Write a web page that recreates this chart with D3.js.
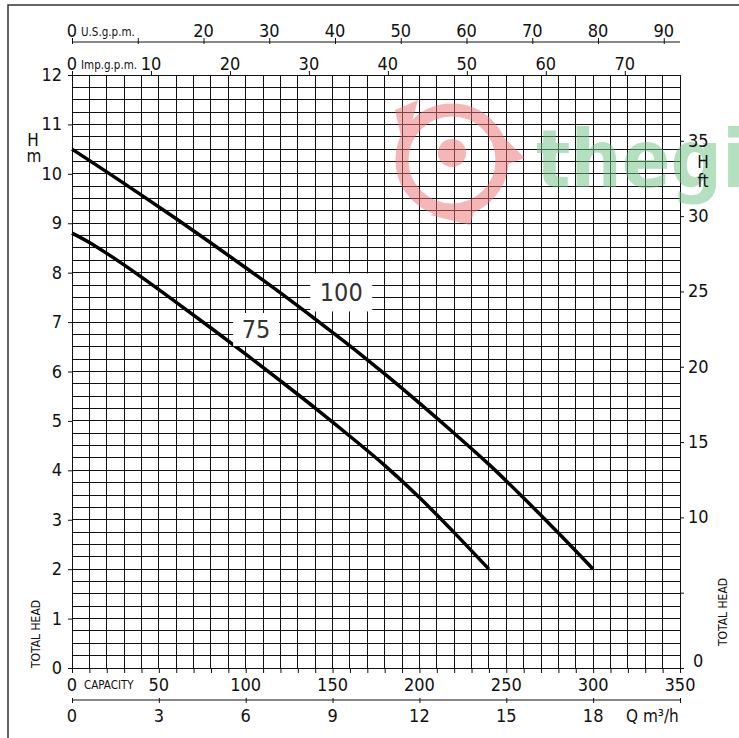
<html>
<head>
<meta charset="utf-8">
<script src="https://d3js.org/d3.v7.min.js"></script>
<style>
body { margin: 0; background: #fff; }
svg text { font-family: "Liberation Sans Narrow", "DejaVu Sans Condensed", "Roboto", sans-serif; fill: #111; }
</style>
</head>
<body>
<script>
// curve data (Q in l/min, H in m)
var flow100 = [0, 20, 40, 60, 80, 100, 120, 140, 160, 180, 200, 220, 240, 260, 280, 300];
var head100 = [10.5, 10.04, 9.57, 9.09, 8.6, 8.1, 7.59, 7.06, 6.52, 5.95, 5.36, 4.75, 4.12, 3.44, 2.73, 2.0];
var flow75 = [0, 10, 20, 40, 60, 80, 100, 120, 140, 160, 180, 200, 220, 240];
var head75 = [8.8, 8.61, 8.39, 7.91, 7.4, 6.88, 6.35, 5.81, 5.26, 4.69, 4.1, 3.45, 2.74, 2.0];

var lminTicks = [0, 50, 100, 150, 200, 250, 300, 350];
var m3hTicks = [0, 3, 6, 9, 12, 15, 18];
var usTicks = [0, 10, 20, 30, 40, 50, 60, 70, 80, 90];
var impTicks = [0, 10, 20, 30, 40, 50, 60, 70];
var mTicks = [0, 1, 2, 3, 4, 5, 6, 7, 8, 9, 10, 11, 12];
var ftTicks = [0, 5, 10, 15, 20, 25, 30, 35];

var w = 739, h = 738;
var svg = d3.select("body").append("svg").attr("width", w).attr("height", h);

var x = d3.scaleLinear().domain([0, 350]).range([72, 680]);
var y = d3.scaleLinear().domain([0, 12]).range([668, 75]);
var xUS = d3.scaleLinear().domain([0, 350 / 3.785]).range([72, 680]);
var xImp = d3.scaleLinear().domain([0, 350 / 4.546]).range([72, 680]);
var xM3 = d3.scaleLinear().domain([0, 21]).range([72, 680]);
var yFt = d3.scaleLinear().domain([0, 12 * 3.2808]).range([668, 75]);

// frame
svg.append("rect").attr("x", 8).attr("y", 5).attr("width", 760).attr("height", 760)
  .attr("fill", "none").attr("stroke", "#333").attr("stroke-width", 1.5);

// grid
var grid = svg.append("g").attr("shape-rendering", "crispEdges").attr("stroke", "#111").attr("stroke-width", 1);
grid.selectAll(".v").data(d3.range(0, 351, 10)).enter().append("line")
  .attr("x1", function(d){return x(d);}).attr("x2", function(d){return x(d);})
  .attr("y1", y(12)).attr("y2", y(0));
grid.selectAll(".hz").data(d3.range(0, 12.01, 0.25)).enter().append("line")
  .attr("y1", function(d){return y(d);}).attr("y2", function(d){return y(d);})
  .attr("x1", x(0)).attr("x2", x(350));

// bottom l/min ticks (every 10) pointing down
svg.append("g").attr("transform", "translate(0," + y(0) + ")")
  .call(d3.axisBottom(x).tickValues(d3.range(0, 351, 10)).tickSize(5).tickFormat(""))
  .call(function(g){ g.select(".domain").remove(); g.selectAll("line").attr("stroke", "#111"); });
svg.append("g").selectAll("text").data(lminTicks).enter().append("text")
  .attr("x", function(d){return x(d);}).attr("y", 691).attr("text-anchor", "middle")
  .attr("font-size", 18).text(function(d){return d;});
svg.append("text").attr("x", 84).attr("y", 689).attr("font-size", 11.5).text("CAPACITY");

// m3/h axis
var m3 = svg.append("g").attr("transform", "translate(0,700)")
  .call(d3.axisBottom(xM3).tickValues(m3hTicks.concat([21])).tickSize(3).tickFormat(""));
m3.select(".domain").attr("d", "M" + xM3(0) + ",0H" + xM3(21)).attr("stroke", "#111");
m3.selectAll("line").attr("stroke", "#111").attr("y1", -2);
svg.append("g").selectAll("text").data(m3hTicks).enter().append("text")
  .attr("x", function(d){return xM3(d);}).attr("y", 722).attr("text-anchor", "middle")
  .attr("font-size", 18).text(function(d){return d;});
svg.append("text").attr("x", 626).attr("y", 722).attr("font-size", 17).text("Q  m\u00B3/h");

// top U.S.g.p.m. axis
var us = svg.append("g").attr("transform", "translate(0,42)")
  .call(d3.axisTop(xUS).tickValues(usTicks).tickSize(4).tickFormat(""));
us.select(".domain").attr("d", "M" + x(0) + ",0H" + x(350)).attr("stroke", "#111");
us.selectAll("line").attr("stroke", "#111").attr("y1", 2);
svg.append("g").selectAll("text").data(usTicks.filter(function(d){return d !== 10;})).enter().append("text")
  .attr("x", function(d){return xUS(d);}).attr("y", 37).attr("text-anchor", "middle")
  .attr("font-size", 18).text(function(d){return d;});
svg.append("text").attr("x", 81).attr("y", 36).attr("font-size", 11.5).text("U.S.g.p.m.");

// top Imp.g.p.m. ticks on grid top
svg.append("g").attr("transform", "translate(0," + y(12) + ")")
  .call(d3.axisTop(xImp).tickValues(impTicks).tickSize(4).tickFormat(""))
  .call(function(g){ g.select(".domain").remove(); g.selectAll("line").attr("stroke", "#111"); });
svg.append("g").selectAll("text").data(impTicks).enter().append("text")
  .attr("x", function(d){return xImp(d);}).attr("y", 70).attr("text-anchor", "middle")
  .attr("font-size", 18).text(function(d){return d;});
svg.append("text").attr("x", 81).attr("y", 69).attr("font-size", 11.5).text("Imp.g.p.m.");

// left metres
svg.append("g").attr("transform", "translate(" + x(0) + ",0)")
  .call(d3.axisLeft(y).tickValues(mTicks).tickSize(4).tickFormat(""))
  .call(function(g){ g.select(".domain").remove(); g.selectAll("line").attr("stroke", "#111"); });
svg.append("g").selectAll("text").data(mTicks).enter().append("text")
  .attr("x", 62).attr("y", function(d){return y(d) + 6;}).attr("text-anchor", "end")
  .attr("font-size", 18).text(function(d){return d;});
svg.append("text").attr("x", 33).attr("y", 146).attr("text-anchor", "middle").attr("font-size", 17).text("H");
svg.append("text").attr("x", 34).attr("y", 162).attr("text-anchor", "middle").attr("font-size", 17).text("m");
svg.append("text").attr("transform", "translate(40,634) rotate(-90)").attr("text-anchor", "middle")
  .attr("font-size", 12).text("TOTAL HEAD");

// watermark (sits under the right-hand labels)
var wm = svg.append("g").attr("opacity", 0.5);
wm.append("circle").attr("cx", 452).attr("cy", 160).attr("r", 50)
  .attr("fill", "none").attr("stroke", "#ec6f74").attr("stroke-width", 13);
wm.append("circle").attr("cx", 452).attr("cy", 153).attr("r", 14).attr("fill", "#ec6f74");
wm.append("path").attr("d", "M395,110 L418,100 L404,150 Z M470,100 L475,110 L525,158 L505,165 Z M430,215 L470,225 L478,198 Z")
  .attr("fill", "#ec6f74");
wm.append("text").attr("x", 536).attr("y", 187).attr("font-size", 80).attr("font-weight", "bold")
  .style("font-family", "'DejaVu Sans Condensed', sans-serif").style("fill", "#6cc283").text("thegioi");

// right feet
svg.append("g").attr("transform", "translate(" + x(350) + ",0)")
  .call(d3.axisRight(yFt).tickValues(ftTicks).tickSize(4).tickFormat(""))
  .call(function(g){ g.select(".domain").remove(); g.selectAll("line").attr("stroke", "#111"); });
svg.append("g").selectAll("text").data(ftTicks.filter(function(d){return d !== 5;})).enter().append("text")
  .attr("x", function(d){return d === 0 ? 693 : 688;})
  .attr("y", function(d){return d === 0 ? yFt(d) - 1 : yFt(d) + 6;})
  .attr("font-size", 18).text(function(d){return d;});
svg.append("text").attr("x", 703).attr("y", 168).attr("text-anchor", "middle").attr("font-size", 17).text("H");
svg.append("text").attr("x", 703).attr("y", 187).attr("text-anchor", "middle").attr("font-size", 17).text("ft");
svg.append("text").attr("transform", "translate(727,612) rotate(-90)").attr("text-anchor", "middle")
  .attr("font-size", 12).text("TOTAL HEAD");

// curves
var line = d3.line().curve(d3.curveMonotoneX)
  .x(function(d){return x(d[0]);}).y(function(d){return y(d[1]);});
svg.append("path").datum(d3.zip(flow100, head100)).attr("d", line)
  .attr("fill", "none").attr("stroke", "#000").attr("stroke-width", 3.5);
svg.append("path").datum(d3.zip(flow75, head75)).attr("d", line)
  .attr("fill", "none").attr("stroke", "#000").attr("stroke-width", 3.5);

// curve labels on white boxes
var labels = [{t: "100", q: 155, hm: 7.6, bw: 62, bh: 38}, {t: "75", q: 106, hm: 6.85, bw: 46, bh: 33}];
labels.forEach(function(l){
  svg.append("rect").attr("x", x(l.q) - l.bw / 2).attr("y", y(l.hm) - l.bh / 2)
    .attr("width", l.bw).attr("height", l.bh).attr("fill", "#fff");
  svg.append("text").attr("x", x(l.q)).attr("y", y(l.hm) + 9).attr("text-anchor", "middle")
    .attr("font-size", 25).attr("font-weight", 300).style("fill", "#333").text(l.t);
});
</script>
</body>
</html>
